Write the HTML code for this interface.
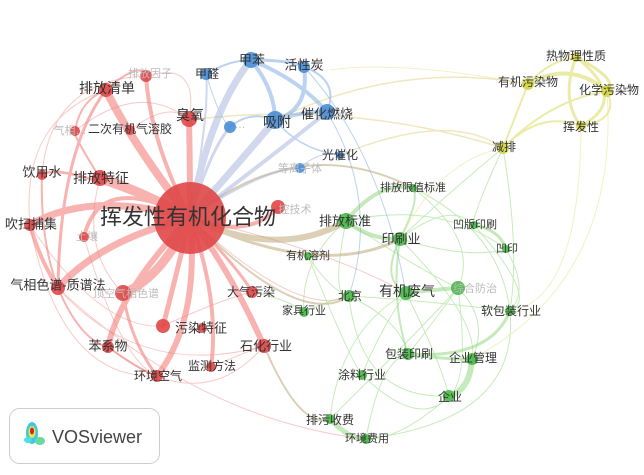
<!DOCTYPE html>
<html><head><meta charset="utf-8"><style>
html,body{margin:0;padding:0;background:#fff;}
svg{display:block;font-family:"Liberation Sans","Noto Sans CJK SC",sans-serif;}
.l{fill:#333;text-anchor:middle;dominant-baseline:central;}
.f{fill:#bbb;text-anchor:middle;dominant-baseline:central;}
</style></head><body>
<svg width="644" height="475" viewBox="0 0 644 475">
<g fill="none" stroke-linecap="round">
<g stroke="#f26a66" opacity="0.5">
<path d="M190 218 Q130 140 106 90" stroke-width="8"/>
<path d="M190 218 Q140 190 100 178" stroke-width="9"/>
<path d="M190 218 Q90 190 30 225" stroke-width="7"/>
<path d="M190 218 Q100 240 58 288" stroke-width="7"/>
<path d="M190 218 Q160 280 123 293" stroke-width="9"/>
<path d="M190 218 Q120 290 108 347" stroke-width="6"/>
<path d="M190 218 Q170 300 163 326" stroke-width="5"/>
<path d="M190 218 Q200 320 157 376" stroke-width="6"/>
<path d="M190 218 Q230 270 264 346" stroke-width="6"/>
<path d="M190 218 Q220 300 211 367" stroke-width="4"/>
<path d="M190 218 Q190 160 189 120" stroke-width="6"/>
<path d="M190 218 Q150 140 146 76" stroke-width="4"/>
<path d="M190 218 Q140 160 130 130" stroke-width="4"/>
<path d="M190 218 Q250 240 278 207" stroke-width="4"/>
<path d="M190 218 Q100 170 84 237" stroke-width="4"/>
<path d="M190 218 Q240 270 252 292" stroke-width="3"/>
<path d="M106 90 Q60 150 58 288" stroke-width="3"/>
<path d="M30 225 Q40 260 58 288" stroke-width="4"/>
<path d="M106 90 Q140 60 146 76" stroke-width="2"/>
<path d="M42 175 Q40 240 58 288" stroke-width="2"/>
<path d="M106 90 Q80 100 75 131" stroke-width="2"/>
<path d="M100 178 Q70 130 75 131" stroke-width="2"/>
<path d="M123 293 Q130 340 157 376" stroke-width="3"/>
<path d="M108 347 Q140 370 157 376" stroke-width="2"/>
<path d="M58 288 Q80 340 108 347" stroke-width="2"/>
<path d="M190 218 Q60 160 42 175" stroke-width="3"/>
</g>
<g stroke="#f07a78" opacity="0.4" stroke-width="1">
<path d="M30 225 Q20 120 106 90"/><path d="M42 175 Q50 80 146 76"/>
<path d="M58 288 Q140 380 264 346"/><path d="M30 225 Q60 380 157 376"/>
<path d="M163 326 Q220 300 252 292"/><path d="M130 130 Q170 100 189 120"/>
<path d="M108 347 Q200 420 264 346"/><path d="M100 178 Q80 250 123 293"/>
<path d="M211 367 Q250 350 264 346"/><path d="M190 218 Q330 250 406 293"/>
<path d="M190 218 Q300 320 349 296"/><path d="M58 288 Q200 420 366 439"/>
<path d="M75 131 Q140 80 189 120"/><path d="M30 225 Q100 330 163 326"/>
<path d="M84 237 Q120 360 157 376"/><path d="M146 76 Q200 60 189 120"/>
</g>
<g stroke="#b8a070" opacity="0.5">
<path d="M190 218 Q280 260 346 221" stroke-width="6"/>
<path d="M190 218 Q320 280 400 239" stroke-width="3"/>
<path d="M190 218 Q300 130 413 188" stroke-width="2"/>
<path d="M264 346 Q300 430 330 419" stroke-width="2"/>
<path d="M190 218 Q300 330 349 296" stroke-width="2"/>
</g>
<g stroke="#e0d080" opacity="0.5" stroke-width="1.5">
<path d="M189 120 Q350 100 503 148"/><path d="M275 120 Q400 60 528 84"/>
<path d="M340 155 Q450 110 503 148"/>
</g>
<g stroke="#6a9fe0" opacity="0.45">
<path d="M190 218 Q210 110 251 60" stroke-width="7" stroke="#9aa8d8"/>
<path d="M190 218 Q250 150 275 120" stroke-width="7" stroke="#9aa8d8"/>
<path d="M190 218 Q280 150 327 112" stroke-width="4" stroke="#9aa8d8"/>
<path d="M190 218 Q210 150 230 127" stroke-width="3" stroke="#9aa8d8"/>
<path d="M190 218 Q260 170 300 168" stroke-width="2" stroke="#9aa8d8"/>
<path d="M190 218 Q210 110 206 74" stroke-width="2" stroke="#9aa8d8"/>
<path d="M251 60 Q275 90 275 120" stroke-width="4"/>
<path d="M251 60 Q290 60 304 67" stroke-width="3"/>
<path d="M251 60 Q300 80 327 112" stroke-width="4"/>
<path d="M304 67 Q310 110 275 120" stroke-width="4"/>
<path d="M275 120 Q310 110 327 112" stroke-width="4"/>
<path d="M206 74 Q230 60 251 60" stroke-width="2"/>
<path d="M230 127 Q250 110 275 120" stroke-width="2"/>
<path d="M304 67 Q340 80 327 112" stroke-width="2"/>
<path d="M275 120 Q300 150 340 155" stroke-width="1.5"/>
<path d="M300 168 Q320 150 340 155" stroke-width="1"/>
<path d="M206 74 Q220 120 230 127" stroke-width="1"/>
<path d="M327 112 Q380 200 349 296" stroke-width="1"/>
<path d="M304 67 Q380 150 406 293" stroke-width="1"/>
</g>
<g stroke="#7fd06a" opacity="0.45">
<path d="M346 221 Q380 180 413 188" stroke-width="4"/>
<path d="M346 221 Q370 240 400 239" stroke-width="4"/>
<path d="M400 239 Q420 200 413 188" stroke-width="2"/>
<path d="M406 293 Q430 290 458 288" stroke-width="4"/>
<path d="M472 359 Q470 390 449 396" stroke-width="6"/>
<path d="M330 419 Q350 440 366 439" stroke-width="5"/>
<path d="M408 354 Q450 360 472 359" stroke-width="3"/>
<path d="M474 225 Q500 230 506 249" stroke-width="3"/>
<path d="M510 311 Q490 360 408 354" stroke-width="3"/>
<path d="M400 239 Q390 300 408 354" stroke-width="2"/>
<path d="M400 239 Q380 280 406 293" stroke-width="2"/>
</g>
<g stroke="#8fd878" opacity="0.5" stroke-width="1">
<path d="M346 221 Q330 300 349 296"/><path d="M349 296 Q400 320 408 354"/>
<path d="M406 293 Q440 360 449 396"/><path d="M458 288 Q420 340 408 354"/>
<path d="M458 288 Q490 320 472 359"/><path d="M400 239 Q450 200 474 225"/>
<path d="M400 239 Q470 260 506 249"/><path d="M506 249 Q530 290 510 311"/>
<path d="M474 225 Q540 300 510 311"/><path d="M362 375 Q380 330 406 293"/>
<path d="M330 419 Q340 330 406 293"/><path d="M366 439 Q380 360 408 354"/>
<path d="M449 396 Q400 440 366 439"/><path d="M308 256 Q330 290 349 296"/>
<path d="M304 312 Q330 300 349 296"/><path d="M413 188 Q500 230 510 311"/>
<path d="M346 221 Q420 270 458 288"/><path d="M349 296 Q420 300 510 311"/>
<path d="M400 239 Q480 320 472 359"/><path d="M413 188 Q480 240 458 288"/>
<path d="M362 375 Q420 430 449 396"/><path d="M308 256 Q350 360 362 375"/>
<path d="M346 221 Q300 260 304 312"/><path d="M458 288 Q470 380 449 396"/>
<path d="M503 148 Q520 250 510 311"/><path d="M503 148 Q470 220 474 225"/>
<path d="M503 148 Q440 200 400 239"/><path d="M366 439 Q520 420 510 311"/>
<path d="M252 292 Q290 300 304 312"/><path d="M346 221 Q440 200 506 249"/>
<path d="M349 296 Q360 400 449 396"/><path d="M330 419 Q420 330 458 288"/>
</g>
<g stroke="#dede70" opacity="0.6">
<path d="M528 84 Q570 60 607 91" stroke-width="4"/>
<path d="M576 57 Q630 100 581 126" stroke-width="3"/>
<path d="M576 57 Q620 80 607 91" stroke-width="3"/>
<path d="M576 57 Q560 100 581 126" stroke-width="3"/>
<path d="M528 84 Q550 60 576 57" stroke-width="2"/>
<path d="M528 84 Q510 130 503 148" stroke-width="2"/>
<path d="M503 148 Q540 110 581 126" stroke-width="2"/>
<path d="M503 148 Q550 100 607 91" stroke-width="2"/>
<path d="M581 126 Q620 120 607 91" stroke-width="2"/>
</g>
<g stroke="#e4e48a" opacity="0.5" stroke-width="1">
<path d="M528 84 Q400 60 330 70"/><path d="M503 148 Q440 160 400 239"/>
<path d="M581 126 Q580 300 510 311"/><path d="M607 91 Q620 280 472 359"/>
</g>
</g>
<g opacity="0.9">
<g fill="#e04848">
<circle cx="190" cy="218" r="36"/>
<circle cx="106" cy="90" r="7"/><circle cx="146" cy="76" r="6"/>
<circle cx="189" cy="119" r="8"/><circle cx="75" cy="131" r="5"/>
<circle cx="130" cy="130" r="5"/><circle cx="42" cy="175" r="5"/>
<circle cx="100" cy="178" r="8"/><circle cx="30" cy="225" r="6"/>
<circle cx="84" cy="237" r="5"/><circle cx="58" cy="288" r="7"/>
<circle cx="123" cy="293" r="8"/><circle cx="108" cy="347" r="6"/>
<circle cx="163" cy="326" r="7"/><circle cx="252" cy="292" r="6"/>
<circle cx="264" cy="346" r="7"/><circle cx="211" cy="367" r="5"/>
<circle cx="157" cy="376" r="6"/><circle cx="278" cy="207" r="7"/>
<circle cx="202" cy="328" r="5"/>
</g>
<g fill="#4a8fd6">
<circle cx="251" cy="60" r="8"/><circle cx="304" cy="67" r="6"/>
<circle cx="206" cy="74" r="6"/><circle cx="275" cy="120" r="9"/>
<circle cx="327" cy="112" r="8"/><circle cx="230" cy="127" r="6"/>
<circle cx="340" cy="155" r="4"/><circle cx="300" cy="168" r="5"/>
</g>
<g fill="#4ab84a">
<circle cx="413" cy="188" r="4"/><circle cx="346" cy="221" r="8"/>
<circle cx="400" cy="239" r="7"/><circle cx="474" cy="225" r="4"/>
<circle cx="506" cy="249" r="4"/><circle cx="308" cy="256" r="4"/>
<circle cx="349" cy="296" r="6"/><circle cx="406" cy="293" r="7"/>
<circle cx="458" cy="288" r="7"/><circle cx="304" cy="312" r="5"/>
<circle cx="510" cy="311" r="5"/><circle cx="408" cy="354" r="6"/>
<circle cx="472" cy="359" r="6"/><circle cx="362" cy="375" r="5"/>
<circle cx="449" cy="396" r="6"/><circle cx="330" cy="419" r="5"/>
<circle cx="366" cy="439" r="5"/>
</g>
<g fill="#d4d448">
<circle cx="528" cy="84" r="6"/><circle cx="576" cy="57" r="5"/>
<circle cx="607" cy="91" r="6"/><circle cx="581" cy="126" r="5"/>
<circle cx="503" cy="148" r="6"/>
</g>
</g>
<g font-size="12">
<text class="l" x="188" y="217" font-size="22" fill="#222">挥发性有机化合物</text>
<text class="l" x="107" y="88" font-size="14">排放清单</text>
<text class="f" x="150" y="74" font-size="11">排放因子</text>
<text class="l" x="190" y="115" font-size="14">臭氧</text>
<text class="f" x="70" y="131" font-size="11">气相…</text>
<text class="l" x="130" y="129">二次有机气溶胶</text>
<text class="l" x="42" y="172" font-size="13">饮用水</text>
<text class="l" x="101" y="178" font-size="14">排放特征</text>
<text class="l" x="31" y="224" font-size="13">吹扫捕集</text>
<text class="f" x="87" y="237" font-size="11">土壤</text>
<text class="l" x="58" y="285" font-size="13">气相色谱-质谱法</text>
<text class="f" x="126" y="294" font-size="11">顶空气相色谱</text>
<text class="l" x="108" y="346" font-size="13">苯系物</text>
<text class="l" x="201" y="328" font-size="13">污染特征</text>
<text class="l" x="251" y="292">大气污染</text>
<text class="l" x="266" y="346" font-size="13">石化行业</text>
<text class="l" x="212" y="366" fill="#666">监测方法</text>
<text class="l" x="158" y="376">环境空气</text>
<text class="f" x="295" y="210" font-size="11">控技术</text>
<text class="l" x="252" y="60" font-size="13">甲苯</text>
<text class="l" x="304" y="65" font-size="13">活性炭</text>
<text class="l" x="207" y="74">甲醛</text>
<text class="l" x="277" y="122" font-size="14">吸附</text>
<text class="l" x="327" y="114" font-size="13">催化燃烧</text>
<text class="f" x="240" y="125" font-size="11">…</text>
<text class="l" x="340" y="155">光催化</text>
<text class="f" x="300" y="169" font-size="11">等离子体</text>
<text class="l" x="413" y="188" font-size="11">排放限值标准</text>
<text class="l" x="345" y="221" font-size="13">排放标准</text>
<text class="l" x="401" y="239" font-size="13">印刷业</text>
<text class="l" x="475" y="225" font-size="11">凹版印刷</text>
<text class="l" x="507" y="249" font-size="11">凹印</text>
<text class="l" x="308" y="256" font-size="11">有机溶剂</text>
<text class="l" x="350" y="296">北京</text>
<text class="l" x="407" y="291" font-size="14">有机废气</text>
<text class="f" x="475" y="289" font-size="11">综合防治</text>
<text class="l" x="304" y="311" font-size="11">家具行业</text>
<text class="l" x="511" y="311">软包装行业</text>
<text class="l" x="409" y="354">包装印刷</text>
<text class="l" x="473" y="358">企业管理</text>
<text class="l" x="362" y="375">涂料行业</text>
<text class="l" x="450" y="397">企业</text>
<text class="l" x="330" y="420">排污收费</text>
<text class="l" x="367" y="439" font-size="11">环境费用</text>
<text class="l" x="528" y="82" font-size="12">有机污染物</text>
<text class="l" x="576" y="56" font-size="12">热物理性质</text>
<text class="l" x="609" y="90" font-size="12">化学污染物</text>
<text class="l" x="581" y="127" font-size="12">挥发性</text>
<text class="l" x="504" y="147" font-size="12">减排</text>
</g>
<rect x="9.5" y="408.5" width="150" height="55" rx="10" fill="#fff" stroke="#ccc"/>
<g>
<ellipse cx="32" cy="433" rx="6" ry="11" fill="#3cc8e8"/>
<ellipse cx="40" cy="441" rx="5" ry="4" fill="#6ad8a0"/>
<ellipse cx="28" cy="440" rx="4" ry="3" fill="#4ae0e0"/>
<ellipse cx="32" cy="432" rx="3.5" ry="6" fill="#e8e840"/>
<ellipse cx="32" cy="431" rx="2" ry="3.5" fill="#d82020"/>
</g>
<text x="52" y="443" font-size="18" fill="#444" font-family="Liberation Sans,sans-serif">VOSviewer</text>
</svg>
</body></html>
